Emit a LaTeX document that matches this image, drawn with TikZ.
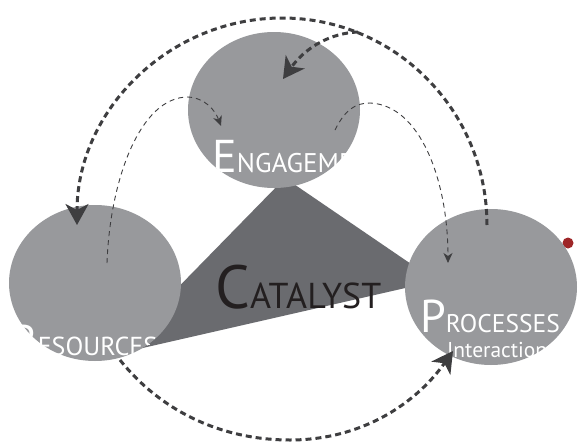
\documentclass[tikz,border=0pt]{standalone}
\usepackage{fontspec}
\setmainfont{PT Sans}
\usetikzlibrary{arrows.meta,shapes.geometric}
\definecolor{blobgray}{RGB}{152,153,156}
\definecolor{trigray}{RGB}{106,107,111}
\definecolor{dashgray}{RGB}{62,62,64}
\definecolor{catblack}{RGB}{35,31,32}
\definecolor{dotred}{RGB}{158,38,40}
\begin{document}
\begin{tikzpicture}[x=1pt,y=-1pt,
  blob/.style={ellipse, fill=blobgray, inner sep=0pt, minimum width=172pt, minimum height=156pt},
  lbl/.style={anchor=base west, inner sep=0pt, text=white},
  thickdash/.style={draw=dashgray, line width=3pt, dash pattern=on 6pt off 4pt},
  thindash/.style={draw=dashgray, line width=0.9pt, dash pattern=on 5pt off 4pt},
  bigtip/.style={-{Stealth[length=21pt,width=23pt,inset=6pt]}},
  smalltip/.style={-{Stealth[length=10pt,width=9pt,inset=3pt]}}
]
\fill[white] (0,0) rectangle (579,442);
\useasboundingbox (0,0) rectangle (579,442);
% catalyst triangle
\fill[trigray] (285,178) -- (436,281) -- (112,355) -- cycle;
% red dot
\fill[dotred] (568,243) circle[radius=5.5];
% circles
\node[blob] (eng) at (274,110) {};
\node[blob] (res) at (95,283) {};
\node[blob] (pro) at (491,287) {};
% labels, clipped to their circles
\begin{scope}
  \clip (eng.center) ellipse[x radius=86, y radius=78];
  \node[lbl] (engtext) at (212,172) {\fontsize{46}{46}\selectfont E\fontsize{27}{27}\selectfont NGAGEMENT};
\end{scope}
\begin{scope}
  \clip (res.center) ellipse[x radius=87, y radius=78];
  \node[lbl] (restext) at (12,355) {\fontsize{43}{43}\selectfont R\fontsize{26}{26}\selectfont ESOURCES};
\end{scope}
\begin{scope}
  \clip (pro.center) ellipse[x radius=86, y radius=78];
  \node[lbl] (protext) at (420,332) {\fontsize{46}{46}\selectfont P\fontsize{25.5}{25.5}\selectfont ROCESSES};
  \node[lbl] (inttext) at (447,357) {\fontsize{21.5}{21.5}\selectfont Interaction};
\end{scope}
\node[lbl, text=catblack] (cat) at (215,308) {\fontsize{61}{61}\selectfont C\fontsize{36}{36}\selectfont ATALYST};
% connectors
\coordinate (bigR) at (487,225);
\coordinate (brA) at (358,32);
\coordinate (engIn) at (283,79);
\coordinate (resA) at (107,263);
\coordinate (engB) at (221,126);
\coordinate (engC) at (335,130);
\coordinate (proB) at (448,263);
\coordinate (resC) at (120,360);
\coordinate (proC) at (453,351);
\draw[thickdash, bigtip] (bigR) arc[start angle=0, end angle=-180, x radius=205, y radius=207];
\draw[thickdash, bigtip] (brA) .. controls (330,33) and (305,48) .. (engIn);
\draw[thindash, smalltip] (resA) .. controls (110,180) and (140,97) .. (188,97) .. controls (205,98) and (215,110) .. (engB);
\draw[thindash, smalltip] (engC) .. controls (345,110) and (355,103) .. (370,103) .. controls (420,105) and (448,180) .. (proB);
\draw[thickdash, bigtip] (resC) .. controls (160,410) and (220,440) .. (290,440) .. controls (360,440) and (415,405) .. (proC);
\end{tikzpicture}
\end{document}
